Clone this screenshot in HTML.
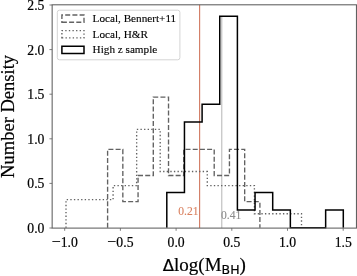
<!DOCTYPE html>
<html><head><meta charset="utf-8"><title>Histogram</title>
<style>html,body{margin:0;padding:0;background:#fff;overflow:hidden}svg{display:block}text{font-family:"Liberation Serif",serif;fill:#000;stroke:#000;stroke-width:0.2px}</style></head><body>
<svg width="357" height="276" viewBox="0 0 357 276">
<rect width="357" height="276" fill="#fff"/>
<line x1="221.8" y1="16.19" x2="221.8" y2="228.1" stroke="#b4b4b4" stroke-width="1"/>
<line x1="199.6" y1="4.8" x2="199.6" y2="228.1" stroke="#d27d66" stroke-width="1.15"/>
<path d="M66.00,227.75 L66.00,199.65 L89.55,199.65 L113.10,199.65 L113.10,185.60 L136.65,185.60 L136.65,129.40 L160.20,129.40 L160.20,171.55 L183.75,171.55 L207.30,171.55 L207.30,185.60 L230.85,185.60 L254.40,185.60 L254.40,213.70 L277.95,213.70 L301.50,213.70 L301.50,227.75" fill="none" stroke="#626262" stroke-width="1.36" stroke-dasharray="1.36 2.24"/>
<path d="M107.60,227.75 L107.60,149.36 L122.83,149.36 L122.83,201.62 L138.06,201.62 L138.06,175.49 L153.29,175.49 L153.29,97.10 L168.52,97.10 L168.52,175.49 L183.75,175.49 L183.75,149.36 L198.98,149.36 L214.21,149.36 L214.21,175.49 L229.44,175.49 L229.44,149.36 L244.67,149.36 L244.67,201.62 L259.90,201.62 L259.90,227.75" fill="none" stroke="#626262" stroke-width="1.36" stroke-dasharray="5 2.2"/>
<path d="M166.80,227.75 L166.80,192.49 L184.45,192.49 L184.45,121.97 L202.10,121.97 L202.10,104.34 L219.75,104.34 L219.75,16.19 L237.40,16.19 L237.40,210.12 L255.05,210.12 L255.05,192.49 L272.70,192.49 L272.70,210.12 L290.35,210.12 L290.35,227.75 L308.00,227.75 L325.65,227.75 L325.65,210.12 L343.30,210.12 L343.30,227.75" fill="none" stroke="#000" stroke-width="1.5" stroke-linejoin="miter"/>
<rect x="52.15" y="4.8" width="304.3" height="223.29999999999998" fill="none" stroke="#5e5e5e" stroke-width="1.05"/>
<line x1="64.70" y1="228.1" x2="64.70" y2="230.79999999999998" stroke="#5e5e5e" stroke-width="0.8"/>
<text x="64.70" y="246.7" font-size="13.7" text-anchor="middle"><tspan font-size="16" dy="0.45">−</tspan><tspan dy="-0.45">1.0</tspan></text>
<line x1="120.40" y1="228.1" x2="120.40" y2="230.79999999999998" stroke="#5e5e5e" stroke-width="0.8"/>
<text x="120.40" y="246.7" font-size="13.7" text-anchor="middle"><tspan font-size="16" dy="0.45">−</tspan><tspan dy="-0.45">0.5</tspan></text>
<line x1="176.10" y1="228.1" x2="176.10" y2="230.79999999999998" stroke="#5e5e5e" stroke-width="0.8"/>
<text x="176.10" y="246.7" font-size="13.7" text-anchor="middle">0.0</text>
<line x1="231.80" y1="228.1" x2="231.80" y2="230.79999999999998" stroke="#5e5e5e" stroke-width="0.8"/>
<text x="231.80" y="246.7" font-size="13.7" text-anchor="middle">0.5</text>
<line x1="287.50" y1="228.1" x2="287.50" y2="230.79999999999998" stroke="#5e5e5e" stroke-width="0.8"/>
<text x="287.50" y="246.7" font-size="13.7" text-anchor="middle">1.0</text>
<line x1="343.20" y1="228.1" x2="343.20" y2="230.79999999999998" stroke="#5e5e5e" stroke-width="0.8"/>
<text x="343.20" y="246.7" font-size="13.7" text-anchor="middle">1.5</text>
<line x1="49.449999999999996" y1="228.00" x2="52.15" y2="228.00" stroke="#5e5e5e" stroke-width="0.8"/>
<text x="44.4" y="232.90" font-size="13.7" text-anchor="end">0.0</text>
<line x1="49.449999999999996" y1="183.40" x2="52.15" y2="183.40" stroke="#5e5e5e" stroke-width="0.8"/>
<text x="44.4" y="188.30" font-size="13.7" text-anchor="end">0.5</text>
<line x1="49.449999999999996" y1="138.80" x2="52.15" y2="138.80" stroke="#5e5e5e" stroke-width="0.8"/>
<text x="44.4" y="143.70" font-size="13.7" text-anchor="end">1.0</text>
<line x1="49.449999999999996" y1="94.20" x2="52.15" y2="94.20" stroke="#5e5e5e" stroke-width="0.8"/>
<text x="44.4" y="99.10" font-size="13.7" text-anchor="end">1.5</text>
<line x1="49.449999999999996" y1="49.60" x2="52.15" y2="49.60" stroke="#5e5e5e" stroke-width="0.8"/>
<text x="44.4" y="54.50" font-size="13.7" text-anchor="end">2.0</text>
<line x1="49.449999999999996" y1="5.00" x2="52.15" y2="5.00" stroke="#5e5e5e" stroke-width="0.8"/>
<text x="44.4" y="9.90" font-size="13.7" text-anchor="end">2.5</text>
<text x="178.3" y="214.9" font-size="11.6" style="fill:#d9805f;stroke:#d9805f;stroke-width:0.1px">0.21</text>
<text x="221" y="219.3" font-size="11.6" style="fill:#8c8c8c;stroke:#8c8c8c;stroke-width:0.1px">0.41</text>
<rect x="57.3" y="10.2" width="122.6" height="49.6" rx="2.2" fill="#fff" fill-opacity="0.8" stroke="#d4d4d4" stroke-width="1"/>
<path d="M61.9,22.3 L84.0,22.3 L84.0,15.0 L61.9,15.0 Z" fill="none" stroke="#626262" stroke-width="1.36" stroke-dasharray="5 2.2"/>
<path d="M61.9,37.9 L84.0,37.9 L84.0,30.6 L61.9,30.6 Z" fill="none" stroke="#626262" stroke-width="1.36" stroke-dasharray="1.36 2.24"/>
<path d="M61.9,53.5 L84.0,53.5 L84.0,46.2 L61.9,46.2 Z" fill="none" stroke="#000" stroke-width="1.5"/>
<text x="92.6" y="22.1" font-size="11.2" style="stroke-width:0.12px">Local, Bennert+11</text>
<text x="92.6" y="37.5" font-size="11.2" style="stroke-width:0.12px">Local, H&amp;R</text>
<text x="92.6" y="52.6" font-size="11.2" style="stroke-width:0.12px">High z sample</text>
<text transform="translate(13.8,116.4) rotate(-90)" font-size="18.55" text-anchor="middle">Number Density</text>
<text x="162.8" y="271.3" font-size="19"><tspan font-family="DejaVu Sans, sans-serif" font-size="16.5">Δ</tspan>log(M<tspan font-family="DejaVu Sans, sans-serif" font-size="12.5" dy="3">BH</tspan><tspan dy="-3">)</tspan></text>
</svg></body></html>
